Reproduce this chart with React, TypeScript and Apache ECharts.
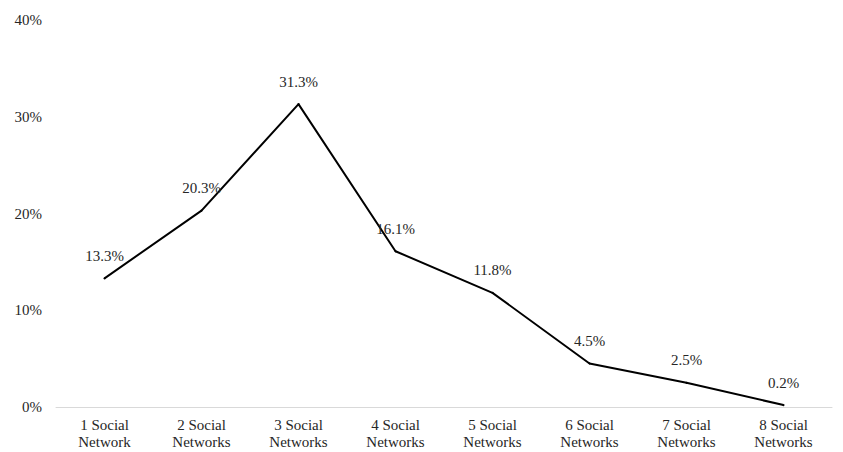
import React, { useEffect, useRef } from "react";
import * as echarts from "echarts";

const categories = [
  "1 Social\nNetwork",
  "2 Social\nNetworks",
  "3 Social\nNetworks",
  "4 Social\nNetworks",
  "5 Social\nNetworks",
  "6 Social\nNetworks",
  "7 Social\nNetworks",
  "8 Social\nNetworks",
];
const values = [13.3, 20.3, 31.3, 16.1, 11.8, 4.5, 2.5, 0.2];

export default function App() {
  const ref = useRef<HTMLDivElement>(null);
  useEffect(() => {
    const chart = echarts.init(ref.current!, null, { renderer: "svg" });
    const font = "'Liberation Serif', 'Times New Roman', serif";
    const color = "#262626";
    chart.setOption({
      animation: false,
      textStyle: { fontFamily: font },
      grid: { left: 56, right: 11, top: 20, bottom: 45, containLabel: false },
      xAxis: {
        type: "category",
        data: categories,
        boundaryGap: true,
        axisLine: { lineStyle: { color: "#d9d9d9", width: 1 } },
        axisTick: { show: false },
        axisLabel: { color, fontSize: 15, fontFamily: font, margin: 9, lineHeight: 17, interval: 0 },
      },
      yAxis: {
        type: "value",
        min: 0,
        max: 40,
        interval: 10,
        splitLine: { show: false },
        axisLine: { show: false },
        axisTick: { show: false },
        axisLabel: { color, fontSize: 15, fontFamily: font, margin: 14, formatter: "{value}%" },
      },
      series: [
        {
          type: "line",
          data: values,
          symbol: "circle",
          symbolSize: 2,
          showSymbol: true,
          itemStyle: { color: "#000000" },
          lineStyle: { color: "#000000", width: 2 },
          label: {
            show: true,
            position: "top",
            distance: 14,
            color,
            fontSize: 15,
            fontFamily: font,
            formatter: (p: any) => p.value.toFixed(1) + "%",
          },
        },
      ],
    });
    return () => chart.dispose();
  }, []);
  return <div ref={ref} style={{ width: 843, height: 452, position: "absolute", left: 0, top: 0 }} />;
}
